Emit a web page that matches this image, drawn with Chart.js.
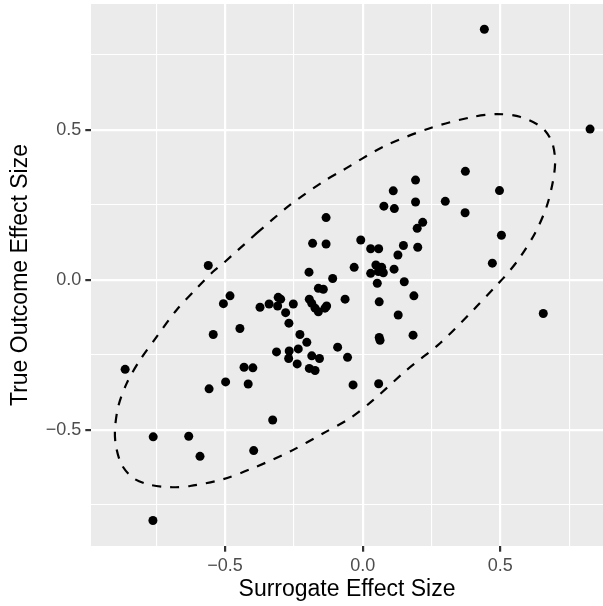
<!DOCTYPE html>
<html>
<head>
<meta charset="utf-8">
<script src="https://cdn.jsdelivr.net/npm/chart.js@4.4.1/dist/chart.umd.min.js"></script>
<style>
  html, body { margin: 0; padding: 0; background: #ffffff; overflow: hidden; }
  #chart { display: block; }
</style>
</head>
<body>
<canvas id="chart" width="603" height="606"></canvas>
<script>
// effect sizes per trial
const surrogateEffect = [
  -0.561, -0.133, -0.182, -0.133, -0.195, -0.109, 0.442, 0.826, 0.373, 0.192,
  0.111, 0.497, 0.192, 0.300, 0.077, 0.115, 0.372, 0.218, 0.198, 0.504,
  -0.007, 0.029, 0.058, 0.148, 0.200, 0.128, 0.471, -0.031, 0.048, 0.069,
  0.029, 0.057, 0.075, 0.114, 0.053, 0.151, -0.064, 0.060, 0.186, 0.129,
  0.656, 0.060, 0.063, 0.183, -0.091, -0.055, -0.035, 0.058, -0.482, -0.506,
  -0.373, -0.340, -0.307, -0.298, -0.309, -0.252, -0.280, -0.268, -0.194, -0.185,
  -0.173, -0.161, -0.137, -0.131, -0.161, -0.143, -0.446, -0.543, -0.228, -0.203,
  -0.313, -0.267, -0.234, -0.269, -0.238, -0.185, -0.157, -0.194, -0.173, -0.863,
  -0.431, -0.399, -0.498, -0.416, -0.558, -0.327, -0.761, -0.632, -0.591, -0.396,
  -0.762
];
const outcomeEffect = [
  0.048, 0.208, 0.122, 0.120, 0.026, 0.005, 0.836, 0.503, 0.362, 0.333,
  0.297, 0.298, 0.260, 0.262, 0.246, 0.238, 0.224, 0.192, 0.172, 0.149,
  0.133, 0.104, 0.104, 0.115, 0.109, 0.083, 0.056, 0.042, 0.050, 0.042,
  0.022, 0.028, 0.024, 0.036, -0.011, -0.006, -0.064, -0.073, -0.053, -0.117,
  -0.112, -0.192, -0.201, -0.184, -0.224, -0.258, -0.350, -0.346, -0.053, -0.079,
  -0.091, -0.080, -0.058, -0.064, -0.087, -0.080, -0.109, -0.144, -0.064, -0.078,
  -0.094, -0.106, -0.094, -0.087, -0.028, -0.031, -0.162, -0.182, -0.182, -0.208,
  -0.240, -0.237, -0.230, -0.262, -0.280, -0.253, -0.262, -0.295, -0.302, -0.298,
  -0.291, -0.293, -0.340, -0.347, -0.363, -0.467, -0.523, -0.521, -0.588, -0.569,
  -0.802
];

// outline of the 95% ellipse
const ellipseX = [
  -0.385, -0.264, -0.143, -0.070, 0.075, 0.244, 0.402, 0.487, 0.571, 0.650,
  0.687, 0.699, 0.692, 0.668, 0.626, 0.565, 0.511, 0.487, 0.402, 0.281,
  0.160, 0.039, -0.046, -0.143, -0.264, -0.385, -0.506, -0.627, -0.700, -0.773,
  -0.833, -0.875, -0.896, -0.900, -0.888, -0.857, -0.809, -0.748, -0.676, -0.603,
  -0.543, -0.506, -0.385
];
const ellipseY = [
  0.156, 0.250, 0.328, 0.367, 0.444, 0.506, 0.544, 0.553, 0.544, 0.509,
  0.461, 0.400, 0.333, 0.244, 0.156, 0.067, 0.006, -0.017, -0.100, -0.211,
  -0.300, -0.400, -0.461, -0.511, -0.572, -0.622, -0.664, -0.687, -0.691, -0.683,
  -0.661, -0.617, -0.556, -0.500, -0.422, -0.344, -0.267, -0.189, -0.100, -0.028,
  0.028, 0.056, 0.156
];

const majorTicks = [-0.5, 0, 0.5];
const minorTicks = [-0.75, -0.25, 0.25, 0.75];

const xRange = [-0.987, 0.873];
const yRange = [-0.887, 0.92];

const points = surrogateEffect.map((x, i) => ({ x: x, y: outcomeEffect[i] }));
const ellipse = ellipseX.map((x, i) => ({ x: x, y: ellipseY[i] }));

const isMajor = (v) => majorTicks.some((m) => Math.abs(m - v) < 1e-9);

function formatTick(v) {
  const s = Math.abs(v).toFixed(1);
  return v < 0 ? "\u2212" + s : s;
}

const panelBackground = {
  id: "panelBackground",
  beforeDraw(chart) {
    const { ctx, chartArea: a } = chart;
    ctx.save();
    ctx.fillStyle = "#EBEBEB";
    ctx.fillRect(a.left, a.top, a.right - a.left, a.bottom - a.top);
    ctx.restore();
  },
};

function axisOptions(range, titleText, isX) {
  return {
    type: "linear",
    min: range[0],
    max: range[1],
    afterBuildTicks: (scale) => {
      scale.ticks = majorTicks
        .concat(minorTicks)
        .sort((a, b) => a - b)
        .map((v) => ({ value: v }));
    },
    afterFit: (scale) => {
      // fixed axis box, no extra room for overhanging labels
      if (isX) {
        scale.height = 60;
        scale.paddingLeft = 0;
        scale.paddingRight = 0;
      } else {
        scale.width = 91;
        scale.paddingTop = 0;
        scale.paddingBottom = 0;
      }
    },
    border: { display: false },
    grid: {
      color: "#FFFFFF",
      lineWidth: (ctx) => (isMajor(ctx.tick.value) ? 2.2 : 1.1),
      drawTicks: true,
      tickLength: 5.7,
      tickWidth: 2.2,
      tickColor: (ctx) => (isMajor(ctx.tick.value) ? "#333333" : "rgba(0,0,0,0)"),
    },
    ticks: {
      autoSkip: false,
      maxRotation: 0,
      padding: 4,
      color: "#4D4D4D",
      font: { family: "'Liberation Sans', Arial, sans-serif", size: 18 },
      callback: (v) => (isMajor(v) ? formatTick(v) : ""),
    },
    title: {
      display: true,
      text: titleText,
      color: "#000000",
      font: { family: "'Liberation Sans', Arial, sans-serif", size: 23 },
      padding: isX ? { top: 0, bottom: 3 } : { top: 7, bottom: 0 },
    },
  };
}

new Chart(document.getElementById("chart"), {
  type: "scatter",
  data: {
    datasets: [
      {
        label: "trials",
        data: points,
        pointRadius: 4.5,
        pointHoverRadius: 4.5,
        backgroundColor: "#000000",
        borderWidth: 0,
      },
      {
        label: "ellipse",
        data: ellipse,
        showLine: true,
        pointRadius: 0,
        borderColor: "#000000",
        borderWidth: 2.2,
        borderDash: [9, 9],
        tension: 0.3,
        fill: false,
      },
    ],
  },
  options: {
    responsive: false,
    animation: false,
    devicePixelRatio: 1,
    layout: {
      autoPadding: false,
      padding: { top: 4, right: 0, left: 0, bottom: 0 },
    },
    plugins: {
      legend: { display: false },
      tooltip: { enabled: false },
    },
    scales: {
      x: axisOptions(xRange, "Surrogate Effect Size", true),
      y: axisOptions(yRange, "True Outcome Effect Size", false),
    },
  },
  plugins: [panelBackground],
});
</script>
</body>
</html>
